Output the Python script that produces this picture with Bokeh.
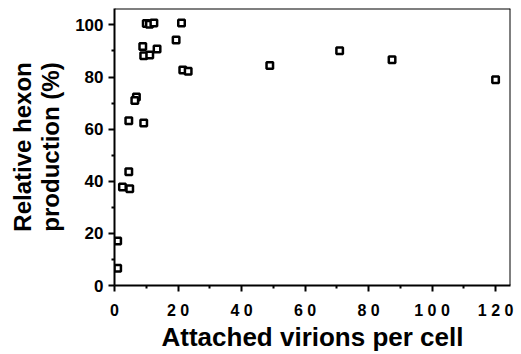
from bokeh.plotting import figure
from bokeh.models import Range1d, FixedTicker, ColumnDataSource, Span
from bokeh.embed import file_html
from bokeh.resources import INLINE

# data
virions = [1.0, 1.0, 2.5, 4.8, 4.5, 4.5, 9.2, 6.9, 6.4, 8.9, 9.2, 11.1, 13.4,
           10.0, 11.0, 12.4, 19.4, 21.1, 21.5, 23.2, 48.9, 70.9, 87.4, 120.0]
hexon = [6.6, 17.1, 37.8, 37.1, 43.7, 63.2, 62.4, 72.3, 71.0, 91.7, 88.2, 88.5, 90.8,
         100.5, 100.3, 100.7, 94.2, 100.7, 82.7, 82.2, 84.4, 90.1, 86.6, 79.0]

x_ticks = [0, 20, 40, 60, 80, 100, 120]
x_minor = [10, 30, 50, 70, 90, 110]
x_tick_labels = ["0", "2 0", "4 0", "6 0", "8 0", "1 0 0", "1 2 0"]
y_ticks = [0, 20, 40, 60, 80, 100]
y_minor = [10, 30, 50, 70, 90]
x_max, y_max = 124.7, 106.3

src = ColumnDataSource(data=dict(x=virions, y=hexon))

p = figure(width=521, height=354, output_backend="svg", toolbar_location=None,
           x_range=Range1d(0, x_max), y_range=Range1d(0, y_max),
           min_border_left=114, min_border_right=11, min_border_top=8, min_border_bottom=67)
p.grid.visible = False
p.outline_line_color = None
p.background_fill_color = "white"
p.border_fill_color = "white"

# frame box (top and right edges)
p.add_layout(Span(location=x_max, dimension="height", line_color="black", line_width=2))
p.add_layout(Span(location=y_max, dimension="width", line_color="black", line_width=2))

p.scatter("x", "y", source=src, marker="square", size=6.5, line_width=2.5,
          line_color="black", fill_color="white")

font = "Liberation Sans"
xa = p.xaxis[0]
xa.ticker = FixedTicker(ticks=x_ticks, minor_ticks=x_minor)
xa.major_label_overrides = {t: l for t, l in zip(x_ticks, x_tick_labels)}
xa.axis_label = "Attached virions per cell"
ya = p.yaxis[0]
ya.ticker = FixedTicker(ticks=y_ticks, minor_ticks=y_minor)
ya.axis_label = "Relative hexon\nproduction (%)"

for ax in (xa, ya):
    ax.axis_line_width = 2
    ax.axis_line_color = "black"
    ax.major_tick_line_width = 2
    ax.minor_tick_line_width = 2
    ax.major_tick_out = 6
    ax.major_tick_in = 0
    ax.minor_tick_out = 3
    ax.minor_tick_in = 0
    ax.major_label_text_font = font
    ax.major_label_text_font_style = "bold"
    ax.major_label_text_color = "black"
    ax.axis_label_text_font = font
    ax.axis_label_text_font_style = "bold"
    ax.axis_label_text_color = "black"

xa.major_label_text_font_size = "16px"
ya.major_label_text_font_size = "17px"
xa.axis_label_text_font_size = "26px"
ya.axis_label_text_font_size = "24px"
ya.axis_label_text_line_height = 1.05
xa.major_label_standoff = 10
xa.axis_label_standoff = 0
ya.major_label_standoff = 5
ya.axis_label_standoff = 8

open("out.html", "w").write(file_html(p, INLINE))
